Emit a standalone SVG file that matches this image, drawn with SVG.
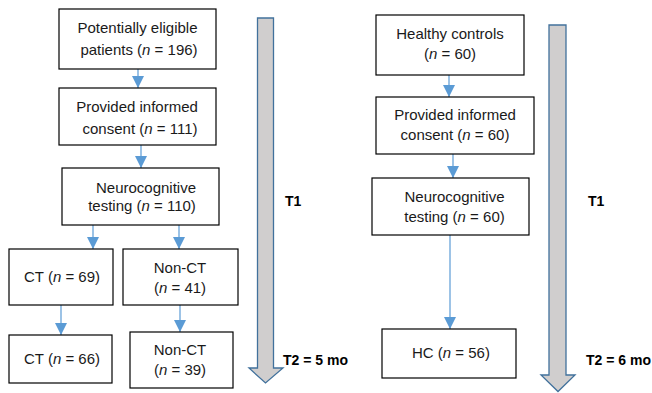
<svg xmlns="http://www.w3.org/2000/svg" width="652" height="393" viewBox="0 0 652 393">
<style>
.box{fill:#fff;stroke:#000;stroke-width:1.2}
.t{font-family:"Liberation Sans",Arial,sans-serif;font-size:15px;fill:#1a1a1a;text-anchor:middle}
.lb{font-family:"Liberation Sans",Arial,sans-serif;font-size:14px;font-weight:bold;fill:#000}
.c{stroke:#5b9bd5;stroke-width:1.2;fill:none;marker-end:url(#ah)}
.big{fill:#d0cece;stroke:#41719c;stroke-width:1.3}
</style>
<defs>
<marker id="ah" markerUnits="userSpaceOnUse" markerWidth="12" markerHeight="12" viewBox="0 0 12 12" refX="12" refY="6" orient="auto">
<path d="M0,0 L12,6 L0,12 Z" fill="#5b9bd5"/>
</marker>
</defs>
<rect width="652" height="393" fill="#fff"/>
<g id="timeline-left">
<path class="big" d="M257.5,18 H273.5 V368 H283 L265.5,383 L249,368 H257.5 Z"/>
<text class="lb" x="285" y="206">T1</text>
<text class="lb" x="283" y="365">T2 = 5 mo</text>
</g>
<g id="timeline-right">
<path class="big" d="M549,25 H566 V375 H575 L558,391.5 L541,375 H549 Z"/>
<text class="lb" x="588" y="206">T1</text>
<text class="lb" x="586" y="365">T2 = 6 mo</text>
</g>
<g id="connectors">
<line class="c" x1="138" y1="69" x2="138" y2="88"/>
<line class="c" x1="141" y1="145" x2="141" y2="168"/>
<line class="c" x1="93" y1="225" x2="93" y2="249"/>
<line class="c" x1="179" y1="225" x2="179" y2="249"/>
<line class="c" x1="61" y1="305" x2="61" y2="335"/>
<line class="c" x1="180" y1="305" x2="180" y2="332"/>
<line class="c" x1="449" y1="75" x2="449" y2="97"/>
<line class="c" x1="453" y1="154" x2="453" y2="178"/>
<line class="c" x1="450" y1="235" x2="450" y2="329"/>
</g>
<g id="n-eligible">
<rect class="box" x="59" y="9" width="157" height="60"/>
<text class="t" x="137.5" y="33">Potentially eligible</text>
<text class="t" x="139" y="55">patients  (<tspan font-style="italic">n</tspan> = 196)</text>
</g>
<g id="n-consent">
<rect class="box" x="59" y="88" width="157" height="57"/>
<text class="t" x="137" y="112">Provided informed</text>
<text class="t" x="140" y="134">consent  (<tspan font-style="italic">n</tspan> = 111)</text>
</g>
<g id="n-testing">
<rect class="box" x="62" y="168" width="157" height="57"/>
<text class="t" x="146" y="193">Neurocognitive</text>
<text class="t" x="142" y="211">testing (<tspan font-style="italic">n</tspan> = 110)</text>
</g>
<g id="n-ct69">
<rect class="box" x="9" y="249" width="104" height="56"/>
<text class="t" x="62" y="282">CT (<tspan font-style="italic">n</tspan> = 69)</text>
</g>
<g id="n-nonct41">
<rect class="box" x="123" y="249" width="115" height="56"/>
<text class="t" x="180" y="273">Non-CT</text>
<text class="t" x="180" y="293">(<tspan font-style="italic">n</tspan> = 41)</text>
</g>
<g id="n-ct66">
<rect class="box" x="9" y="335" width="103" height="48"/>
<text class="t" x="62" y="364">CT (<tspan font-style="italic">n</tspan> = 66)</text>
</g>
<g id="n-nonct39">
<rect class="box" x="130" y="332" width="103" height="56"/>
<text class="t" x="180" y="355">Non-CT</text>
<text class="t" x="180" y="375">(<tspan font-style="italic">n</tspan> = 39)</text>
</g>
<g id="n-healthy">
<rect class="box" x="376" y="15" width="148" height="60"/>
<text class="t" x="450" y="39">Healthy controls</text>
<text class="t" x="450" y="59">(<tspan font-style="italic">n</tspan> = 60)</text>
</g>
<g id="n-hc-consent">
<rect class="box" x="376" y="97" width="158" height="57"/>
<text class="t" x="455" y="120">Provided informed</text>
<text class="t" x="455" y="140">consent (<tspan font-style="italic">n</tspan> = 60)</text>
</g>
<g id="n-hc-testing">
<rect class="box" x="372" y="178" width="157" height="57"/>
<text class="t" x="454.5" y="202">Neurocognitive</text>
<text class="t" x="454.5" y="222">testing (<tspan font-style="italic">n</tspan> = 60)</text>
</g>
<g id="n-hc56">
<rect class="box" x="382" y="329" width="134" height="49"/>
<text class="t" x="451" y="358">HC (<tspan font-style="italic">n</tspan> = 56)</text>
</g>
</svg>
